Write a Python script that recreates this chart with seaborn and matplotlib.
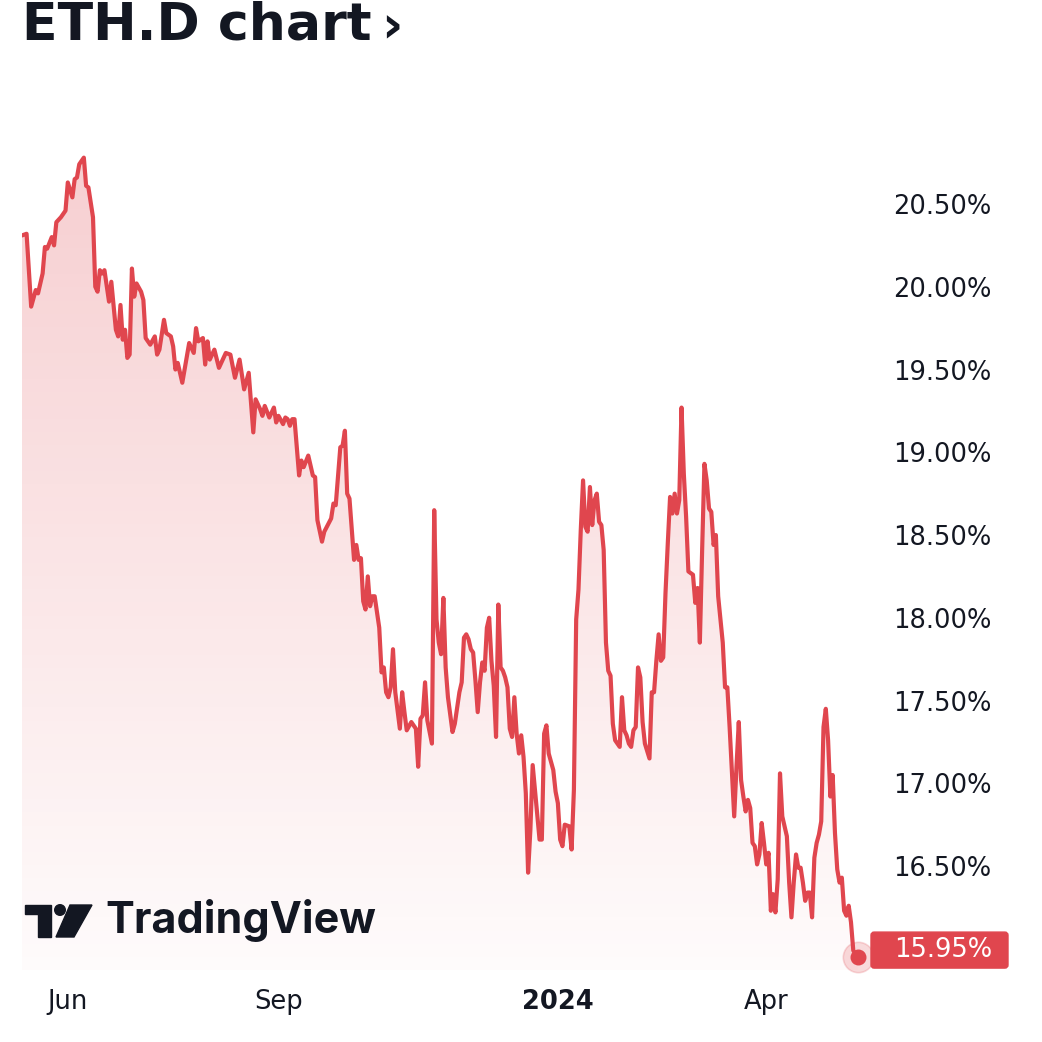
# -*- coding: utf-8 -*-
"""
ETH dominance (ETH.D) one-year area chart, TradingView look.
"""

import matplotlib.pyplot as plt
import seaborn as sns
import numpy as np
import pandas as pd
from matplotlib.patches import Circle, Polygon, FancyBboxPatch

# day offsets from the first sample (2023-05-12)
start_date = '2023-05-12'
day_offset = [
    0, 2, 4, 6, 7, 9, 10, 11, 13, 14, 15, 17, 19, 20, 22, 23, 24, 25, 27, 28,
    29, 31, 32, 33, 34, 35, 36, 38, 39, 41, 42, 43, 44, 45, 46, 47, 48, 49, 50, 52,
    53, 54, 56, 58, 59, 60, 62, 63, 65, 66, 67, 68, 70, 72, 73, 75, 76, 77, 79, 80,
    81, 82, 84, 86, 89, 91, 93, 95, 97, 99, 101, 102, 104, 105, 106, 108, 110, 111, 112, 114,
    115, 116, 117, 118, 119, 121, 122, 123, 125, 127, 128, 129, 131, 132, 135, 136, 137, 139, 140, 141,
    142, 143, 145, 146, 147, 148, 149, 150, 151, 152, 153, 154, 156, 157, 158, 159, 160, 161, 162, 163,
    165, 166, 167, 168, 170, 172, 173, 174, 175, 176, 177, 179, 180, 181, 182, 183, 184, 185, 186, 188,
    189, 191, 192, 193, 194, 195, 196, 197, 198, 199, 200, 201, 202, 203, 204, 205, 206, 207, 208, 209,
    210, 211, 212, 213, 214, 215, 216, 217, 218, 219, 220, 221, 222, 223, 224, 226, 227, 228, 229, 230,
    232, 233, 234, 235, 236, 237, 239, 240, 241, 242, 243, 244, 245, 246, 247, 248, 249, 250, 251, 252,
    253, 254, 255, 256, 257, 258, 259, 261, 262, 263, 264, 265, 266, 267, 268, 269, 270, 271, 272, 274,
    275, 276, 277, 278, 279, 280, 281, 282, 283, 284, 285, 286, 287, 288, 289, 290, 291, 293, 294, 295,
    296, 297, 298, 299, 300, 301, 302, 303, 304, 306, 307, 308, 309, 311, 312, 313, 314, 315, 316, 317,
    318, 319, 320, 321, 322, 323, 324, 325, 326, 327, 328, 329, 330, 331, 332, 333, 334, 335, 336, 337,
    338, 339, 340, 341, 342, 343, 344, 345, 346, 347, 348, 349, 350, 351, 352, 353, 354, 355, 356, 357,
    358, 359, 360, 361, 362, 363, 365,
]
# ETH market-cap dominance, %
eth_dominance = [
    20.31, 20.32, 19.88, 19.98, 19.96, 20.08, 20.24, 20.23, 20.30, 20.25, 20.39, 20.42, 20.46, 20.63, 20.54, 20.65, 20.66, 20.74, 20.78, 20.61,
    20.60, 20.42, 20.00, 19.97, 20.10, 20.08, 20.10, 19.91, 20.03, 19.74, 19.70, 19.89, 19.68, 19.74, 19.57, 19.59, 20.11, 19.94, 20.02, 19.97,
    19.92, 19.69, 19.65, 19.70, 19.59, 19.62, 19.80, 19.72, 19.70, 19.64, 19.50, 19.54, 19.42, 19.58, 19.66, 19.60, 19.75, 19.67, 19.69, 19.53,
    19.67, 19.56, 19.62, 19.51, 19.60, 19.59, 19.45, 19.56, 19.38, 19.48, 19.12, 19.32, 19.26, 19.22, 19.28, 19.21, 19.27, 19.18, 19.22, 19.17,
    19.21, 19.20, 19.16, 19.20, 19.20, 18.86, 18.95, 18.91, 18.98, 18.86, 18.85, 18.59, 18.46, 18.52, 18.60, 18.69, 18.68, 19.03, 19.04, 19.13,
    18.75, 18.72, 18.35, 18.44, 18.35, 18.36, 18.10, 18.05, 18.25, 18.07, 18.13, 18.13, 17.94, 17.67, 17.70, 17.55, 17.52, 17.58, 17.81, 17.55,
    17.33, 17.55, 17.43, 17.32, 17.37, 17.33, 17.10, 17.39, 17.41, 17.61, 17.38, 17.24, 18.65, 17.99, 17.85, 17.78, 18.12, 17.70, 17.52, 17.31,
    17.36, 17.55, 17.61, 17.88, 17.90, 17.87, 17.81, 17.79, 17.62, 17.43, 17.61, 17.73, 17.68, 17.94, 18.00, 17.74, 17.59, 17.28, 18.08, 17.70,
    17.68, 17.64, 17.58, 17.33, 17.28, 17.52, 17.30, 17.18, 17.29, 17.16, 16.94, 16.46, 16.72, 17.11, 16.96, 16.66, 16.66, 17.30, 17.35, 17.18,
    17.08, 16.95, 16.88, 16.66, 16.62, 16.75, 16.74, 16.60, 16.96, 17.99, 18.17, 18.53, 18.83, 18.55, 18.52, 18.79, 18.56, 18.71, 18.75, 18.58,
    18.56, 18.41, 17.85, 17.68, 17.65, 17.36, 17.26, 17.22, 17.52, 17.32, 17.29, 17.24, 17.22, 17.32, 17.34, 17.70, 17.64, 17.37, 17.24, 17.15,
    17.55, 17.55, 17.74, 17.90, 17.74, 17.76, 18.15, 18.45, 18.73, 18.63, 18.75, 18.63, 18.71, 19.27, 18.87, 18.61, 18.28, 18.26, 18.09, 18.18,
    17.85, 18.41, 18.93, 18.83, 18.66, 18.64, 18.44, 18.50, 18.13, 17.85, 17.58, 17.58, 17.34, 16.80, 17.10, 17.37, 17.02, 16.92, 16.83, 16.90,
    16.85, 16.64, 16.62, 16.51, 16.57, 16.76, 16.64, 16.51, 16.58, 16.23, 16.33, 16.22, 16.42, 17.06, 16.80, 16.74, 16.68, 16.40, 16.19, 16.40,
    16.57, 16.49, 16.49, 16.40, 16.29, 16.34, 16.34, 16.19, 16.55, 16.64, 16.69, 16.77, 17.34, 17.45, 17.26, 16.92, 17.05, 16.70, 16.48, 16.40,
    16.43, 16.23, 16.20, 16.26, 16.16, 15.99, 15.95,
]

y_ticks = [16.5, 17.0, 17.5, 18.0, 18.5, 19.0, 19.5, 20.0, 20.5]
x_tick_dates = ['2023-06-01', '2023-09-01', '2024-01-01', '2024-04-01']
x_tick_labels = ['Jun', 'Sep', '2024', 'Apr']

RED = '#e0464e'
DARK = '#131722'
W = H = 1042


def fy(y):
    """Pixel row (from top) -> figure fraction."""
    return 1 - y / H


def draw_logo(fig):
    """Rough TradingView mark plus wordmark in the lower left corner."""
    tf = fig.transFigure
    # "T" block
    fig.patches.append(Polygon([(25 / W, fy(905)), (51 / W, fy(905)), (51 / W, fy(937)),
                                (38 / W, fy(937)), (38 / W, fy(914)), (25 / W, fy(914))],
                               closed=True, color=DARK, transform=tf))
    # dot
    fig.patches.append(Circle((60 / W, fy(910)), 5.3 / W, color=DARK, transform=tf))
    # slash
    fig.patches.append(Polygon([(70 / W, fy(905)), (92 / W, fy(905)), (74 / W, fy(937)),
                                (56 / W, fy(937))], closed=True, color=DARK, transform=tf))
    fig.text(105 / W, fy(921), 'TradingView', family=['Inter', 'DejaVu Sans'],
             fontweight='bold', fontsize=31, color=DARK, va='center', ha='left')


def draw_title(fig):
    t = fig.text(22 / W, fy(26), 'ETH.D chart', fontsize=37.5, fontweight='bold',
                 color=DARK, va='center', ha='left')
    fig.canvas.draw()
    x_end = t.get_window_extent().x1
    fig.text((x_end + 10) / W, fy(28), '\u203a', fontsize=37.5, fontweight='bold',
             color=DARK, va='center', ha='left')


def plot_dominance(df):
    fig = plt.figure(figsize=(W / 100, H / 100), dpi=100)
    ax = fig.add_axes([22 / W, 1 - 970 / H, 848 / W, 840 / H])

    x0 = pd.Timestamp(start_date)
    ax.set_xlim(x0, x0 + pd.Timedelta(days=370.3))
    ax.set_ylim(15.872, 20.947)

    # gradient fill under the line
    fill = ax.fill_between(df['date'], df['value'], 15.872, color='none', lw=0)
    grad = np.zeros((256, 1, 4))
    rgb = plt.matplotlib.colors.to_rgb(RED)
    grad[..., 0], grad[..., 1], grad[..., 2] = rgb
    grad[:, 0, 3] = np.linspace(0.27, 0.02, 256)
    xl = ax.get_xlim()
    img = ax.imshow(grad, extent=[xl[0], xl[1], 15.872, 20.947], aspect='auto',
                    origin='upper', zorder=1)
    img.set_clip_path(fill.get_paths()[0], transform=ax.transData)

    sns.lineplot(data=df, x='date', y='value', ax=ax, color=RED, linewidth=3,
                 zorder=3, legend=False)

    # last value marker
    last = df.iloc[-1]
    ax.scatter([last['date']], [last['value']], s=480, color=RED, alpha=0.2,
               edgecolor=RED, linewidth=1.2, zorder=4, clip_on=False)
    ax.scatter([last['date']], [last['value']], s=110, color=RED, zorder=5, clip_on=False)

    # axes cosmetics
    for s in ax.spines.values():
        s.set_visible(False)
    ax.set_xlabel('')
    ax.set_ylabel('')
    ax.yaxis.tick_right()
    ax.set_yticks(y_ticks)
    ax.set_yticklabels([f'{v:.2f}%' for v in y_ticks])
    ax.tick_params(axis='y', length=0, pad=17, labelsize=18.5, labelcolor=DARK)
    ax.set_xticks(pd.to_datetime(x_tick_dates))
    ax.set_xticklabels(x_tick_labels)
    ax.tick_params(axis='x', length=0, pad=14, labelsize=18.5, labelcolor=DARK)
    ax.get_xticklabels()[2].set_fontweight('bold')
    ax.grid(False)

    # price label box on the right axis
    fig.canvas.draw()
    ydisp = ax.transData.transform((ax.get_xlim()[0], last['value']))[1]
    yc = (ydisp + 7) / H
    fig.patches.append(FancyBboxPatch((871 / W, yc - 18 / H), 137 / W, 36 / H,
                                      boxstyle='round,pad=0,rounding_size=0.003',
                                      color=RED, transform=fig.transFigure, zorder=5))
    fig.text(894 / W, yc, f"{last['value']:.2f}%", color='white', fontsize=18.5,
             va='center', ha='left', zorder=6)

    draw_title(fig)
    draw_logo(fig)
    return fig


if __name__ == '__main__':
    sns.set_style('white')
    plt.rcParams['font.family'] = ['DejaVu Sans']
    df = pd.DataFrame({
        'date': pd.Timestamp(start_date) + pd.to_timedelta(day_offset, unit='D'),
        'value': eth_dominance,
    })
    fig = plot_dominance(df)
    fig.savefig('out.png', dpi=100, facecolor='white')
